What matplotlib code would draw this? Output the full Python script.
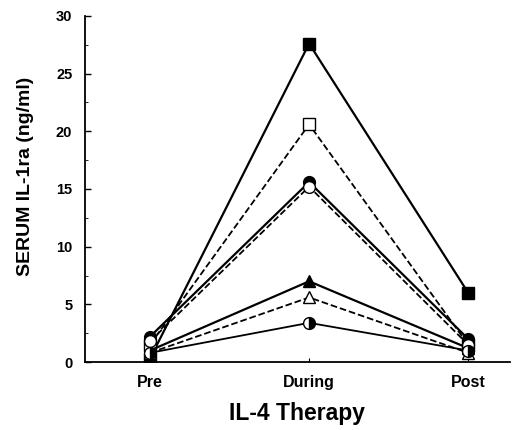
import numpy as np
import matplotlib
matplotlib.use("Agg")
import matplotlib.pyplot as plt

plt.rcParams['font.family'] = ['Liberation Sans', 'DejaVu Sans']

phases = ["Pre", "During", "Post"]

# serum IL-1ra per patient (ng/ml)
filled_square = [0.3, 27.6, 6.0]
open_square = [1.5, 20.6, 1.5]
filled_circle = [2.2, 15.6, 2.0]
open_circle = [1.8, 15.2, 1.5]
filled_tri = [1.0, 7.0, 1.2]
open_tri = [0.8, 5.6, 0.8]
half_circle = [0.8, 3.4, 1.0]

fig = plt.figure(figsize=(5.2, 4.3), dpi=100)
ax = fig.add_axes([0.163, 0.158, 0.817, 0.805])

x = np.arange(len(phases))
ms = 8.5
ax.plot(x, filled_square, "-", color="black", lw=1.6, marker="s", ms=ms, mfc="black", mec="black", zorder=3)
ax.plot(x, open_square, "--", color="black", lw=1.3, marker="s", ms=ms, mfc="white", mec="black", zorder=3)
ax.plot(x, filled_circle, "-", color="black", lw=1.6, marker="o", ms=ms, mfc="black", mec="black", zorder=3)
ax.plot(x, open_circle, "--", color="black", lw=1.3, marker="o", ms=ms, mfc="white", mec="black", zorder=4)
ax.plot(x, filled_tri, "-", color="black", lw=1.6, marker="^", ms=ms, mfc="black", mec="black", zorder=3)
ax.plot(x, open_tri, "--", color="black", lw=1.3, marker="^", ms=ms, mfc="white", mec="black", zorder=4)
ax.plot(x, half_circle, "-", color="black", lw=1.3, marker="o", ms=ms, fillstyle="right",
        mfc="black", mfcalt="white", mec="black", zorder=4)

ax.set_xlim(-0.41, 2.26)
ax.set_ylim(0, 30)
ax.set_xticks(x)
ax.set_xticklabels(phases, fontsize=11.5, fontweight="bold")
ax.set_yticks(np.arange(0, 31, 5))
ax.set_yticks(np.arange(2.5, 30, 5), minor=True)
ax.tick_params(axis="y", direction="in", labelsize=10.5, length=4, width=1, pad=9)
ax.tick_params(axis="y", which="minor", direction="in", length=2.5)
ax.tick_params(axis="x", direction="in", length=3, pad=9)
for lab in ax.get_yticklabels():
    lab.set_fontweight("bold")
ax.spines["top"].set_visible(False)
ax.spines["right"].set_visible(False)
ax.spines["left"].set_linewidth(1.3)
ax.spines["bottom"].set_linewidth(1.3)

ax.set_ylabel("SERUM IL-1ra (ng/ml)", fontsize=14, fontweight="bold")
ax.yaxis.set_label_coords(-0.12, 0.535)
ax.set_xlabel("IL-4 Therapy", fontsize=16.5, fontweight="bold", labelpad=9)

fig.savefig("out.png", dpi=100)
